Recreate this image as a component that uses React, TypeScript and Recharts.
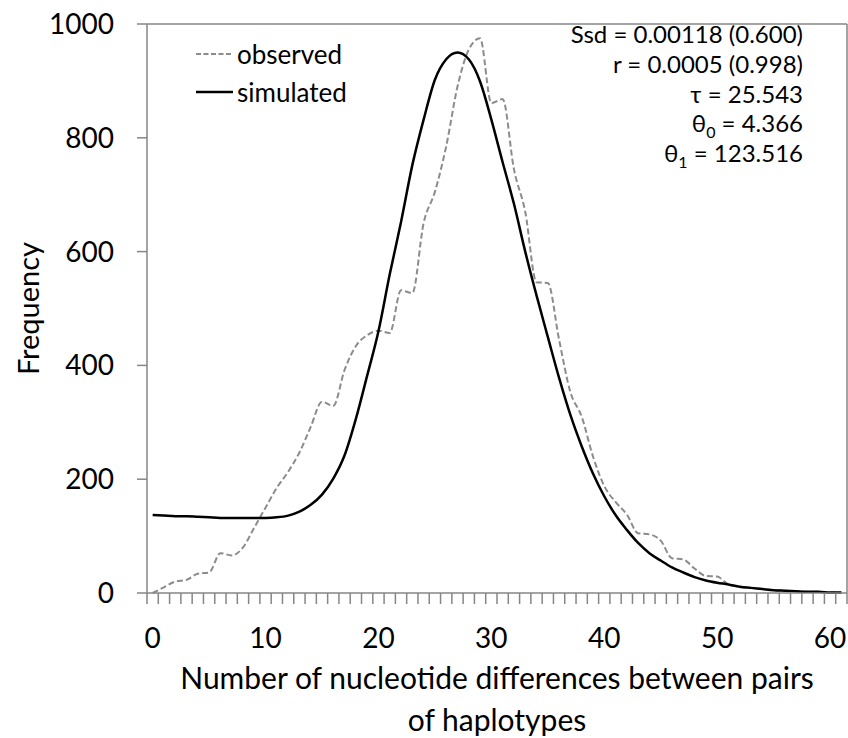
import React from 'react';
import { LineChart, Line, XAxis, YAxis, Legend, ReferenceLine } from 'recharts';

// pairwise differences (categories)
const differences = [
  0, 1, 2, 3, 4, 5, 6, 7, 8, 9, 10, 11, 12, 13, 14, 15, 16, 17, 18, 19, 20,
  21, 22, 23, 24, 25, 26, 27, 28, 29, 30, 31, 32, 33, 34, 35, 36, 37, 38, 39, 40,
  41, 42, 43, 44, 45, 46, 47, 48, 49, 50, 51, 52, 53, 54, 55, 56, 57, 58, 59, 60, 61,
];

const observed = [
  0, 10, 20, 23, 34, 36, 70, 66, 80, 115, 150, 185, 213, 247, 292, 336, 329, 392, 434, 453, 461,
  457, 532, 527, 650, 705, 785, 890, 955, 975, 861, 868, 745, 670, 546, 545, 445, 353, 310, 240, 188,
  160, 138, 105, 103, 92, 61, 59, 43, 30, 29, 15, 11, 9, 7, 5, 4, 3, 2, 2, 1, 1,
];

const simulated = [
  137, 136, 135, 135, 134, 133, 132, 132, 132, 132, 132, 133, 136, 143, 155, 173, 201, 242, 306, 382, 460,
  560, 652, 752, 832, 902, 938, 950, 938, 899, 832, 757, 684, 600, 523, 450, 378, 313, 258, 210, 170,
  137, 111, 88, 70, 57, 45, 36, 28, 22, 18, 15, 11, 9, 7, 5, 4, 3, 2, 2, 1, 1,
];

const xLabelTicks = [0, 10, 20, 30, 40, 50, 60];
const yTicks = [0, 200, 400, 600, 800, 1000];

const data = differences.map((d, i) => ({
  x: d,
  observed: observed[i],
  simulated: simulated[i],
}));

// tick marks sit between categories, like Excel; labels sit on the categories
const boundaryTicks = [-0.5, ...differences.map(d => d + 0.5)];
const allXTicks = [...boundaryTicks, ...xLabelTicks].sort((a, b) => a - b);

const FONT = 'Lato, "Open Sans", sans-serif';
const AXIS = '#868686';

const XTick = (props: any) => {
  const { x, y, payload } = props;
  const v = payload.value;
  if (!Number.isInteger(v)) {
    return <line x1={x} x2={x} y1={y} y2={y + 11} stroke={AXIS} strokeWidth={1.5} />;
  }
  return (
    <text x={x} y={y + 55} textAnchor="middle" fontFamily={FONT} fontSize={28} fill="#000">
      {v}
    </text>
  );
};

const XTitle = (props: any) => {
  const { viewBox } = props;
  const cx = viewBox.x + viewBox.width / 2;
  return (
    <text x={cx} textAnchor="middle" fontFamily={FONT} fontSize={30} fill="#000">
      <tspan x={cx} y={viewBox.y + 96}>Number of nucleotide differences between pairs</tspan>
      <tspan x={cx} y={viewBox.y + 138}>of haplotypes</tspan>
    </text>
  );
};

const YTitle = (props: any) => {
  const { viewBox } = props;
  const cy = viewBox.y + viewBox.height / 2;
  const x = viewBox.x + 27;
  return (
    <text
      x={x}
      y={cy}
      transform={`rotate(-90 ${x} ${cy})`}
      textAnchor="middle"
      dominantBaseline="central"
      fontFamily={FONT}
      fontSize={29}
      fill="#000"
    >
      Frequency
    </text>
  );
};

const LegendBox = () => (
  <div style={{ fontFamily: FONT, fontSize: 26, lineHeight: '38px', color: '#000' }}>
    <div style={{ display: 'flex', alignItems: 'center' }}>
      <svg width={38} height={10}>
        <line x1={0} y1={5} x2={37} y2={5} stroke="#8c8c8c" strokeWidth={2} strokeDasharray="5 2.5" />
      </svg>
      <span style={{ marginLeft: 3 }}>observed</span>
    </div>
    <div style={{ display: 'flex', alignItems: 'center' }}>
      <svg width={38} height={10}>
        <line x1={0} y1={5} x2={37} y2={5} stroke="#000" strokeWidth={2.5} />
      </svg>
      <span style={{ marginLeft: 3 }}>simulated</span>
    </div>
  </div>
);

const sub = { fontSize: 16, position: 'relative' as const, top: 6, lineHeight: 0 };

export default function App() {
  return (
    <div style={{ position: 'absolute', left: 0, top: 0, width: 848, height: 738, background: '#fff' }}>
      <LineChart width={848} height={738} data={data} margin={{ top: 24, right: 1, bottom: 0, left: 0 }}>
        <XAxis
          dataKey="x"
          type="number"
          domain={[-0.5, 61.5]}
          ticks={allXTicks}
          interval={0}
          tickLine={false}
          tickSize={0}
          tickMargin={0}
          height={145}
          stroke={AXIS}
          strokeWidth={1.5}
          tick={XTick}
          label={{ content: XTitle }}
        />
        <YAxis
          domain={[0, 1000]}
          ticks={yTicks}
          interval={0}
          width={147}
          tickSize={10}
          tickMargin={23}
          stroke={AXIS}
          strokeWidth={1.5}
          tick={{ fontFamily: FONT, fontSize: 28, fill: '#000' }}
          label={{ content: YTitle }}
        />
        <ReferenceLine y={1000} stroke={AXIS} strokeWidth={1.5} />
        <ReferenceLine x={61.5} stroke={AXIS} strokeWidth={1.5} />
        <Legend
          layout="vertical"
          align="center"
          verticalAlign="middle"
          content={LegendBox}
          wrapperStyle={{ top: 35, left: 196, width: 'auto' }}
        />
        <Line
          dataKey="observed"
          type="monotone"
          stroke="#8c8c8c"
          strokeWidth={2}
          strokeDasharray="6 3"
          dot={false}
          isAnimationActive={false}
        />
        <Line
          dataKey="simulated"
          type="monotone"
          stroke="#000"
          strokeWidth={2.5}
          dot={false}
          isAnimationActive={false}
        />
      </LineChart>
      <div
        style={{
          position: 'absolute',
          right: 45,
          top: 19,
          textAlign: 'right',
          fontFamily: FONT,
          fontSize: 24,
          lineHeight: '29.8px',
          color: '#000',
        }}
      >
        <div>Ssd = 0.00118 (0.600)</div>
        <div>r = 0.0005 (0.998)</div>
        <div>τ = 25.543</div>
        <div>
          θ<span style={sub}>0</span> = 4.366
        </div>
        <div>
          θ<span style={sub}>1</span> = 123.516
        </div>
      </div>
    </div>
  );
}
